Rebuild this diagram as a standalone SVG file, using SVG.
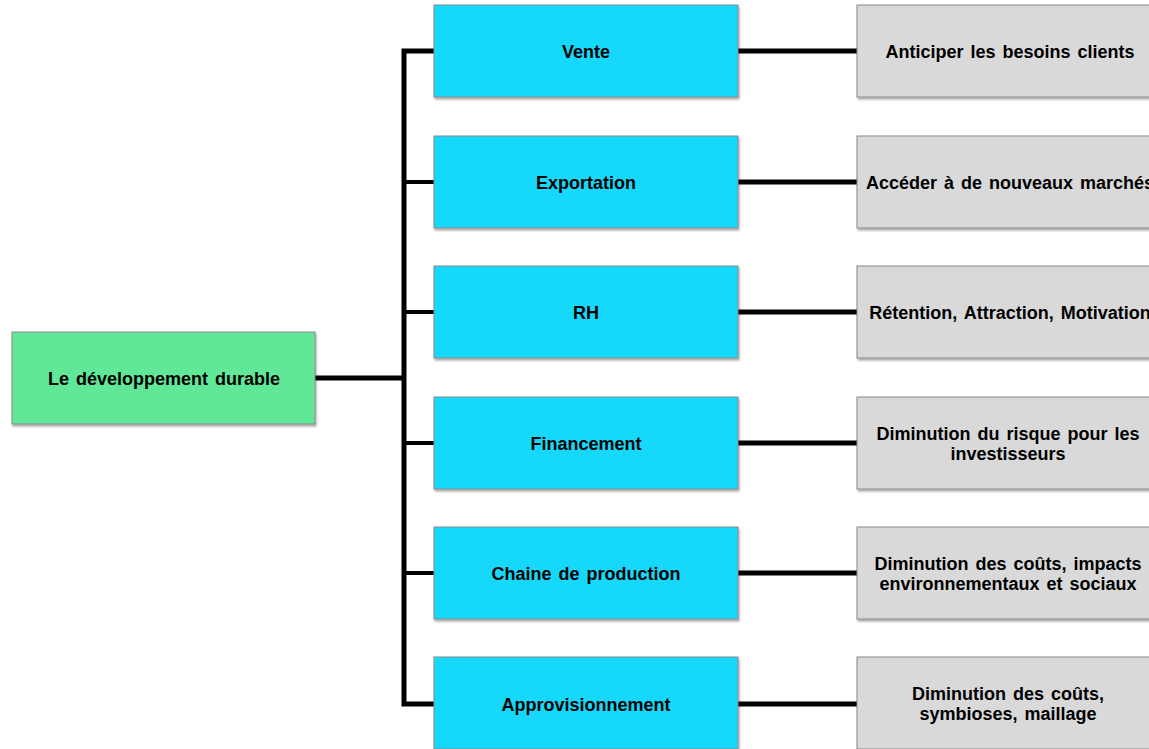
<svg xmlns="http://www.w3.org/2000/svg" width="1149" height="749" viewBox="0 0 1149 749">
<style>
.box{stroke:#8a8a8a;stroke-width:1;filter:url(#sh)}
.root{fill:#60E898}
.mid{fill:#16D8FB}
.leaf{fill:#D9D9D9}
text{font-family:"Liberation Sans",Arial,sans-serif;font-weight:bold;font-size:18px;word-spacing:2px;fill:#000;text-anchor:middle}
.c{stroke:#000;fill:none;stroke-linejoin:miter}
</style>
<defs>
<filter id="sh" x="-5%" y="-10%" width="110%" height="125%">
<feDropShadow dx="1" dy="2" stdDeviation="1.2" flood-color="#000" flood-opacity="0.35"/>
</filter>
</defs>
<g id="connectors">
<path class="c" stroke-width="5" d="M315 378 H404"/>
<path class="c" stroke-width="5" d="M434 51 H404 V704 H434"/>
<path class="c" stroke-width="4" d="M404 182 H434 M404 312 H434 M404 443 H434 M404 573 H434"/>
<path class="c" stroke-width="5" d="M738 51 H857 M738 182 H857 M738 312 H857 M738 443 H857 M738 573 H857 M738 704 H857"/>
</g>
<g id="root"><rect class="box root" x="12" y="332" width="303" height="92"/><text x="164" y="384.5">Le développement durable</text></g>
<g id="vente"><rect class="box mid" x="434" y="5" width="304" height="92"/><text x="586" y="57.5">Vente</text></g>
<g id="exportation"><rect class="box mid" x="434" y="136" width="304" height="92"/><text x="586" y="188.5">Exportation</text></g>
<g id="rh"><rect class="box mid" x="434" y="266" width="304" height="92"/><text x="586" y="318.5">RH</text></g>
<g id="financement"><rect class="box mid" x="434" y="397" width="304" height="92"/><text x="586" y="449.5">Financement</text></g>
<g id="chaine"><rect class="box mid" x="434" y="527" width="304" height="92"/><text x="586" y="579.5">Chaine de production</text></g>
<g id="appro"><rect class="box mid" x="434" y="657" width="304" height="92"/><text x="586" y="710.5">Approvisionnement</text></g>
<g id="leaf1"><rect class="box leaf" x="857" y="5" width="304" height="92"/><text x="1010" y="57.5">Anticiper les besoins clients</text></g>
<g id="leaf2"><rect class="box leaf" x="857" y="136" width="304" height="92"/><text x="1010" y="188.5">Accéder à de nouveaux marchés</text></g>
<g id="leaf3"><rect class="box leaf" x="857" y="266" width="304" height="92"/><text x="1010" y="318.5">Rétention, Attraction, Motivation</text></g>
<g id="leaf4"><rect class="box leaf" x="857" y="397" width="304" height="92"/><text x="1008" y="439.5">Diminution du risque pour les</text><text x="1008" y="459.5">investisseurs</text></g>
<g id="leaf5"><rect class="box leaf" x="857" y="527" width="304" height="92"/><text x="1008" y="569.5">Diminution des coûts, impacts</text><text x="1008" y="589.5">environnementaux et sociaux</text></g>
<g id="leaf6"><rect class="box leaf" x="857" y="657" width="304" height="92"/><text x="1008" y="700">Diminution des coûts,</text><text x="1008" y="720">symbioses, maillage</text></g>
</svg>
